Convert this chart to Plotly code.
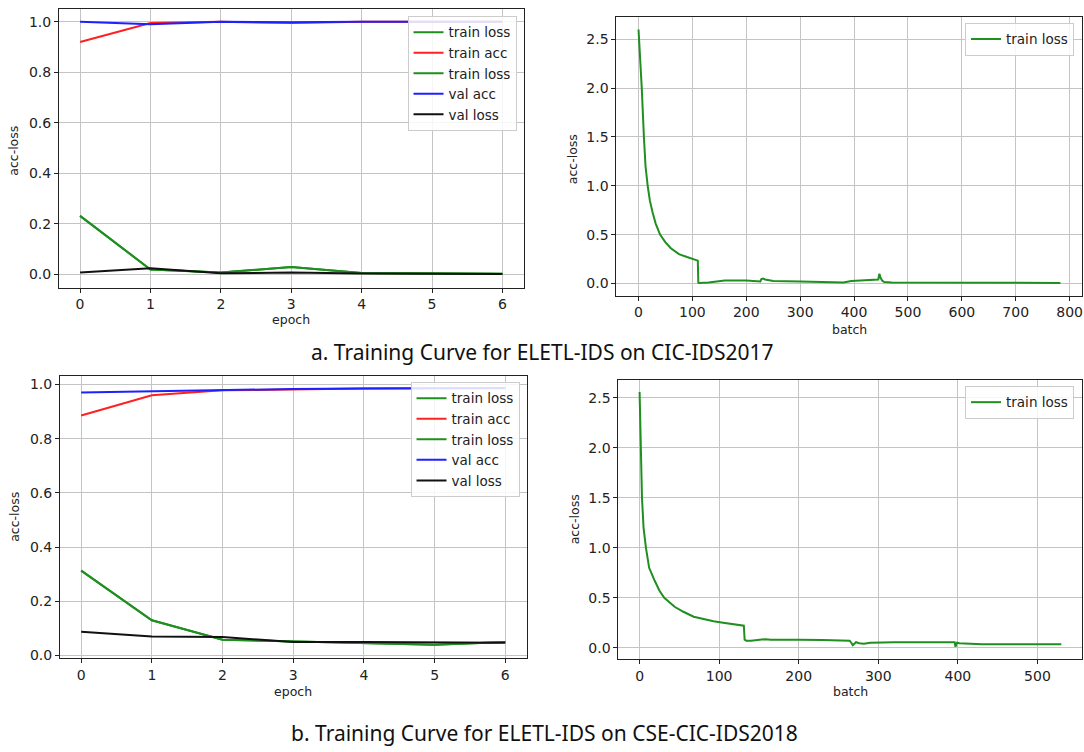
import plotly.graph_objects as go

# ---------------- data ----------------
epochs = [0, 1, 2, 3, 4, 5, 6]

# (a) CIC-IDS2017, per-epoch
a_train_acc = [0.920, 0.995, 1.000, 0.995, 1.000, 1.000, 1.000]
a_train_loss = [0.232, 0.020, 0.008, 0.030, 0.006, 0.005, 0.003]
a_val_acc = [1.000, 0.990, 1.000, 0.998, 1.000, 1.000, 1.000]
a_val_loss = [0.008, 0.025, 0.005, 0.008, 0.004, 0.003, 0.002]

# (a) per-batch train loss
a_batch = [0, 3, 6, 10, 13, 17, 21, 26, 32, 40, 50, 60, 75, 90, 100, 110, 111, 113, 130,
           150, 160, 200, 222, 226, 228, 231, 235, 250, 300, 330, 340, 380, 395, 420, 440,
           445, 447, 449, 452, 456, 470, 500, 550, 570, 600, 650, 700, 783]
a_batch_loss = [2.60, 2.35, 2.00, 1.50, 1.20, 1.00, 0.85, 0.73, 0.61, 0.50, 0.42, 0.36,
                0.30, 0.27, 0.25, 0.233, 0.007, 0.005, 0.010, 0.020, 0.030, 0.030, 0.025,
                0.020, 0.045, 0.050, 0.040, 0.025, 0.020, 0.015, 0.010, 0.010, 0.025, 0.035,
                0.040, 0.040, 0.100, 0.060, 0.030, 0.015, 0.010, 0.010, 0.008, 0.005, 0.010,
                0.007, 0.005, 0.005]

# (b) CSE-CIC-IDS2018, per-epoch
b_train_acc = [0.885, 0.960, 0.978, 0.982, 0.985, 0.986, 0.986]
b_train_loss = [0.313, 0.130, 0.058, 0.052, 0.045, 0.040, 0.050]
b_val_acc = [0.970, 0.975, 0.978, 0.983, 0.985, 0.986, 0.987]
b_val_loss = [0.088, 0.070, 0.068, 0.050, 0.050, 0.048, 0.047]

# (b) per-batch train loss
b_batch = [0, 1, 3, 5, 8, 12, 16, 19, 25, 31, 44, 55, 68, 80, 93, 105, 117, 131, 132,
           134, 140, 150, 158, 165, 175, 200, 230, 264, 266, 268, 272, 276, 282, 290, 320,
           360, 396, 397, 399, 402, 410, 430, 480, 530]
b_batch_loss = [2.56, 2.05, 1.50, 1.20, 1.00, 0.80, 0.72, 0.67, 0.57, 0.50, 0.41, 0.36,
                0.31, 0.285, 0.265, 0.25, 0.235, 0.22, 0.08, 0.07, 0.07, 0.075, 0.085, 0.08,
                0.078, 0.08, 0.078, 0.07, 0.05, 0.025, 0.055, 0.045, 0.04, 0.05, 0.055, 0.055,
                0.055, 0.01, 0.05, 0.045, 0.04, 0.035, 0.035, 0.035]

captions = ["a. Training Curve for ELETL-IDS on CIC-IDS2017",
            "b. Training Curve for ELETL-IDS on CSE-CIC-IDS2018"]

# ---------------- figure ----------------
W, H = 1084, 752
GREEN, RED, BLUE, BLACK = "#1f8f1f", "#ff2020", "#2020ff", "#111111"
TICKFONT = dict(family="DejaVu Sans", size=14, color="#222")
LW = 2

fig = go.Figure()

def px_x(p):
    return p / W

def px_y(p):
    return 1 - p / H

def add_epoch(axn, leg, tr_loss, tr_acc, v_acc, v_loss):
    xa, ya = f"x{axn}" if axn > 1 else "x", f"y{axn}" if axn > 1 else "y"
    series = [("train loss", tr_loss, GREEN), ("train acc", tr_acc, RED),
              ("train loss", tr_loss, GREEN), ("val acc", v_acc, BLUE),
              ("val loss", v_loss, BLACK)]
    for name, vals, col in series:
        fig.add_trace(go.Scatter(x=epochs, y=vals, mode="lines", name=name,
                                 line=dict(color=col, width=LW), xaxis=xa, yaxis=ya,
                                 legend=leg))

def add_batch(axn, leg, xs, ys):
    fig.add_trace(go.Scatter(x=xs, y=ys, mode="lines", name="train loss",
                             line=dict(color=GREEN, width=LW), xaxis=f"x{axn}",
                             yaxis=f"y{axn}", legend=leg))

add_epoch(1, "legend", a_train_loss, a_train_acc, a_val_acc, a_val_loss)
add_batch(2, "legend2", a_batch, a_batch_loss)
add_epoch(3, "legend3", b_train_loss, b_train_acc, b_val_acc, b_val_loss)
add_batch(4, "legend4", b_batch, b_batch_loss)

def axis_common():
    return dict(showline=True, linecolor="#222", linewidth=1, mirror=True,
                showgrid=True, gridcolor="#c4c4c4", gridwidth=1, zeroline=False,
                ticks="outside", ticklen=4, tickcolor="#222", tickfont=TICKFONT)

# domains in pixels: (left, right, top, bottom)
boxes = {
    1: (59, 524, 9, 290),
    2: (617, 1083, 17, 298),
    3: (60, 527, 379, 663),
    4: (619, 1083, 383, 664),
}
xr = {1: [-0.3, 6.3], 2: [-41, 823], 3: [-0.3, 6.3], 4: [-26.6, 556]}
yr = {1: [-0.052, 1.051], 2: [-0.125, 2.73], 3: [-0.008, 1.031], 4: [-0.11, 2.68]}
xt = {1: list(range(0, 7)), 2: list(range(0, 801, 100)), 3: list(range(0, 7)),
      4: list(range(0, 501, 100))}
yt = {1: [0, 0.2, 0.4, 0.6, 0.8, 1.0], 2: [0, 0.5, 1.0, 1.5, 2.0, 2.5],
      3: [0, 0.2, 0.4, 0.6, 0.8, 1.0], 4: [0, 0.5, 1.0, 1.5, 2.0, 2.5]}

layout = {}
for n, (l, r, t, b) in boxes.items():
    sfx = "" if n == 1 else str(n)
    xa = axis_common()
    xa.update(domain=[px_x(l), px_x(r)], range=xr[n], tickvals=xt[n],
              anchor="y" + sfx)
    ya = axis_common()
    ya.update(domain=[px_y(b), px_y(t)], range=yr[n], tickvals=yt[n],
              ticktext=[f"{v:.1f}" for v in yt[n]], anchor="x" + sfx)
    layout["xaxis" + sfx] = xa
    layout["yaxis" + sfx] = ya

legstyle = dict(bgcolor="rgba(255,255,255,0.85)", bordercolor="#cccccc", borderwidth=1,
                font=dict(family="DejaVu Sans", size=13.5, color="#222"),
                xanchor="right", yanchor="top", itemwidth=30, tracegroupgap=0)
layout["legend"] = dict(x=px_x(517), y=px_y(16), **legstyle)
layout["legend2"] = dict(x=px_x(1075), y=px_y(23), **legstyle)
layout["legend3"] = dict(x=px_x(520), y=px_y(385), **legstyle)
layout["legend4"] = dict(x=px_x(1075), y=px_y(389), **legstyle)

fig.update_layout(width=W, height=H, margin=dict(l=0, r=0, t=0, b=0),
                  paper_bgcolor="white", plot_bgcolor="white", showlegend=True,
                  **layout)

lab = dict(family="DejaVu Sans", size=12.5, color="#222")
annots = [
    dict(text="acc-loss", x=px_x(14), y=px_y(152), textangle=-90),
    dict(text="epoch", x=px_x(291), y=px_y(322)),
    dict(text="acc-loss", x=px_x(573), y=px_y(160), textangle=-90),
    dict(text="batch", x=px_x(850), y=px_y(332)),
    dict(text="acc-loss", x=px_x(15), y=px_y(521), textangle=-90),
    dict(text="epoch", x=px_x(293), y=px_y(697)),
    dict(text="acc-loss", x=px_x(575), y=px_y(523), textangle=-90),
    dict(text="batch", x=px_x(851), y=px_y(697)),
]
for a in annots:
    fig.add_annotation(xref="paper", yref="paper", showarrow=False, font=lab,
                       xanchor="center", yanchor="middle", **a)

capfont = dict(family="Noto Sans", size=21, color="#111")
fig.add_annotation(text=captions[0], xref="paper", yref="paper", x=px_x(543),
                   y=px_y(355), showarrow=False, font=capfont,
                   xanchor="center", yanchor="middle")
fig.add_annotation(text=captions[1], xref="paper", yref="paper", x=px_x(545),
                   y=px_y(739), showarrow=False, font=capfont,
                   xanchor="center", yanchor="middle")

fig.write_html("out.html", config={"displayModeBar": False},
               post_script="document.body.style.margin='0';document.body.style.overflow='hidden';")
